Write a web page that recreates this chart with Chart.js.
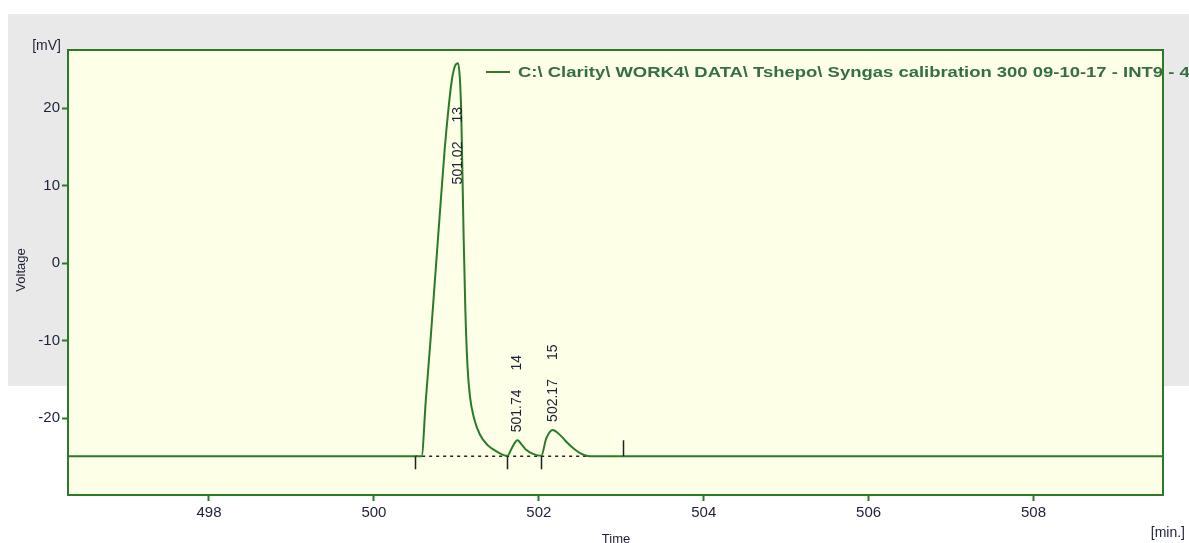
<!DOCTYPE html>
<html>
<head>
<meta charset="utf-8">
<title>Voltage vs Time</title>
<script src="https://cdn.jsdelivr.net/npm/chart.js@4/dist/chart.umd.min.js"></script>
<style>
    html, body { margin: 0; padding: 0; background: #ffffff; }
    canvas { display: block; }
</style>
</head>
<body>
<canvas id="chromatogram" width="1189" height="543"></canvas>
<script>
// detector trace, time in minutes and signal in mV
var signalTime = [496.29, 500.50, 500.578, 500.630, 500.691, 500.751, 500.812, 500.860, 500.909, 500.945, 500.982, 501.02,
    501.042, 501.058, 501.073, 501.089, 501.109, 501.134, 501.164, 501.212, 501.285, 501.382, 501.492, 501.62,
    501.67, 501.74, 501.80, 501.85, 501.93, 502.03,
    502.09, 502.17, 502.22, 502.28, 502.34, 502.40, 502.50, 502.62, 503.02, 509.57];
var signalMv = [-24.9, -24.9, -24.9, -17.6, -9.3, -0.6, 8.2, 14.9, 20.4, 23.6, 25.4, 25.8,
    23.9, 19.8, 12.0, 3.0, -6.0, -13.1, -17.1, -19.9, -22.1, -23.5, -24.3, -24.85,
    -23.9, -22.85, -23.5, -24.1, -24.6, -24.85,
    -22.6, -21.5, -21.8, -22.4, -23.1, -23.7, -24.5, -24.9, -24.9, -24.9];

// integration results
var peakTimes = [501.02, 501.74, 502.17];
var peakNumbers = ["13", "14", "15"];
var baselineMv = -24.9;
var baselineStart = 500.50;
var baselineEnd = 502.62;
var peakBorders = [500.50, 501.62, 502.03];
var integrationEnd = 503.02;

var timeTicks = [498, 500, 502, 504, 506, 508];
var voltageTicks = [-20, -10, 0, 10, 20];

var traceName = "C:\\ Clarity\\ WORK4\\ DATA\\ Tshepo\\ Syngas calibration 300 09-10-17 - INT9 - 4";

var green = "#2a7a2a";
var inkColor = "#1e2038";
var fontName = "'Liberation Sans', Arial, sans-serif";

var points = signalTime.map(function(t, i) { return { x: t, y: signalMv[i] }; });

var frame = {
    id: "frame",
    beforeDraw: function(chart) {
        var ctx = chart.ctx, a = chart.chartArea;
        ctx.save();
        ctx.fillStyle = "#ffffff";
        ctx.fillRect(0, 0, chart.width, chart.height);
        ctx.fillStyle = "#e9e9e9";
        ctx.fillRect(8, 14, chart.width - 8, 372);
        ctx.fillStyle = "#fdffe6";
        ctx.fillRect(a.left, a.top, a.right - a.left, a.bottom - a.top);
        ctx.restore();
    },
    beforeDatasetsDraw: function(chart) {
        // dotted baseline under the integrated peaks
        var ctx = chart.ctx, xs = chart.scales.x, ys = chart.scales.y;
        var yb = ys.getPixelForValue(baselineMv);
        ctx.save();
        ctx.strokeStyle = "#222222";
        ctx.lineWidth = 1.5;
        ctx.setLineDash([3, 4]);
        ctx.beginPath();
        ctx.moveTo(xs.getPixelForValue(baselineStart), yb);
        ctx.lineTo(xs.getPixelForValue(baselineEnd), yb);
        ctx.stroke();
        ctx.restore();
    },
    afterDatasetsDraw: function(chart) {
        var ctx = chart.ctx, a = chart.chartArea, xs = chart.scales.x, ys = chart.scales.y;
        var yb = ys.getPixelForValue(baselineMv);
        ctx.save();

        // peak border marks
        ctx.strokeStyle = "#222222";
        ctx.lineWidth = 1.5;
        ctx.beginPath();
        peakBorders.forEach(function(t) {
            var px = Math.round(xs.getPixelForValue(t)) + 0.5;
            ctx.moveTo(px, yb);
            ctx.lineTo(px, yb + 13);
        });
        var pe = Math.round(xs.getPixelForValue(integrationEnd)) + 0.5;
        ctx.moveTo(pe, yb);
        ctx.lineTo(pe, yb - 16);
        ctx.stroke();

        // plot frame
        ctx.strokeStyle = green;
        ctx.lineWidth = 2;
        ctx.strokeRect(a.left, a.top, a.right - a.left, a.bottom - a.top);

        // peak labels, retention time then peak number, reading upwards
        ctx.font = "14px " + fontName;
        ctx.fillStyle = inkColor;
        ctx.textBaseline = "middle";
        ctx.textAlign = "left";
        peakTimes.forEach(function(t, i) {
            var k = signalTime.indexOf(t);
            var px = xs.getPixelForValue(t);
            var py = ys.getPixelForValue(signalMv[k]);
            var timeText = t.toFixed(2);
            var w1 = ctx.measureText(timeText).width;
            var w2 = ctx.measureText(peakNumbers[i]).width;
            var gap = 19;
            var len = w1 + gap + w2;
            var start = py - 8;
            if (start - len < a.top + 10) {
                start = a.top + 57 + len;
            }
            ctx.save();
            ctx.translate(px, start);
            ctx.rotate(-Math.PI / 2);
            ctx.fillText(timeText, 0, 0);
            ctx.fillText(peakNumbers[i], w1 + gap, 0);
            ctx.restore();
        });

        // legend entry
        ctx.strokeStyle = green;
        ctx.lineWidth = 2;
        ctx.beginPath();
        ctx.moveTo(486, 72);
        ctx.lineTo(510, 72);
        ctx.stroke();
        ctx.font = "bold 15px " + fontName;
        ctx.fillStyle = "#356e42";
        var fitPart = traceName.slice(0, traceName.indexOf("INT9") + 4);
        var sx = 645 / ctx.measureText(fitPart).width;
        ctx.save();
        ctx.translate(518, 73);
        ctx.scale(sx, 1);
        ctx.fillText(traceName, 0, 0);
        ctx.restore();

        // axis captions
        ctx.fillStyle = inkColor;
        ctx.font = "14px " + fontName;
        ctx.textAlign = "right";
        ctx.fillText("[mV]", 61, 46);
        ctx.fillText("[min.]", 1185, 533);
        ctx.textAlign = "center";
        ctx.font = "13px " + fontName;
        ctx.textBaseline = "top";
        ctx.fillText("Time", 616, 533);
        ctx.save();
        ctx.translate(21, 270);
        ctx.rotate(-Math.PI / 2);
        ctx.textBaseline = "middle";
        ctx.fillText("Voltage", 0, 0);
        ctx.restore();

        ctx.restore();
    }
};

var ctx = document.getElementById("chromatogram").getContext("2d");
var chart = new Chart(ctx, {
    type: "line",
    data: {
        datasets: [{
            label: traceName,
            data: points,
            borderColor: green,
            borderWidth: 2,
            pointRadius: 0,
            cubicInterpolationMode: "monotone",
            fill: false
        }]
    },
    options: {
        responsive: false,
        animation: false,
        parsing: false,
        layout: { padding: { left: 8, top: 50, right: 26, bottom: 18 } },
        plugins: {
            legend: { display: false },
            tooltip: { enabled: false }
        },
        scales: {
            x: {
                type: "linear",
                min: 496.29,
                max: 509.57,
                afterBuildTicks: function(scale) {
                    scale.ticks = timeTicks.map(function(v) { return { value: v }; });
                },
                afterFit: function(scale) { scale.height = 30; },
                border: { display: false },
                grid: { drawOnChartArea: false, drawTicks: true, tickLength: 6, tickColor: green, tickWidth: 2 },
                ticks: {
                    color: inkColor,
                    padding: 3,
                    maxRotation: 0,
                    font: { family: fontName, size: 15 },
                    callback: function(v) { return String(v); }
                }
            },
            y: {
                type: "linear",
                min: -29.9,
                max: 27.5,
                afterBuildTicks: function(scale) {
                    scale.ticks = voltageTicks.map(function(v) { return { value: v }; });
                },
                afterFit: function(scale) { scale.width = 60; },
                border: { display: false },
                grid: { drawOnChartArea: false, drawTicks: true, tickLength: 6, tickColor: green, tickWidth: 2 },
                ticks: {
                    color: inkColor,
                    padding: 2,
                    font: { family: fontName, size: 15 },
                    callback: function(v) { return String(v); }
                }
            }
        }
    },
    plugins: [frame]
});
</script>
</body>
</html>
